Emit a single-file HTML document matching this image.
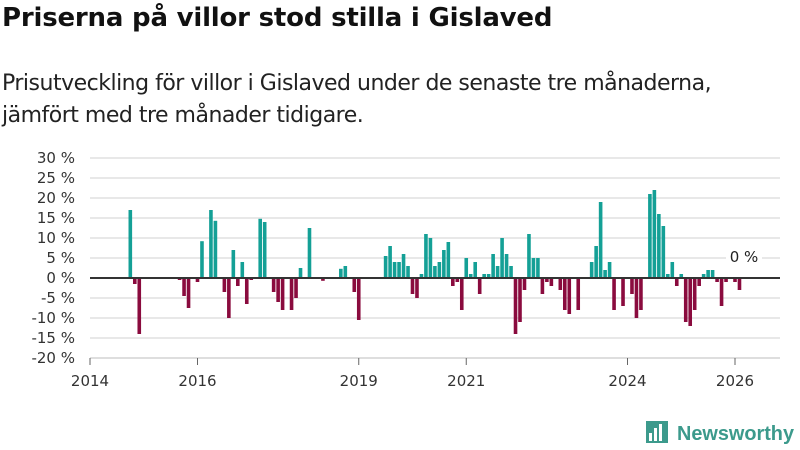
<!DOCTYPE html>
<html><head><meta charset="utf-8">
<style>
body{margin:0;background:#fff;width:800px;height:450px;overflow:hidden;font-family:"Liberation Sans","DejaVu Sans",sans-serif;}
#title{position:absolute;left:2px;top:3px;font-size:26px;font-weight:bold;color:#111;margin:0;white-space:nowrap;font-family:"DejaVu Sans","Liberation Sans",sans-serif;letter-spacing:-0.2px}
#sub{position:absolute;left:2px;top:68px;font-size:22px;line-height:32px;color:#222;white-space:nowrap;font-family:"DejaVu Sans","Liberation Sans",sans-serif;letter-spacing:-0.5px}
svg{position:absolute;left:0;top:0}
</style></head><body>
<h1 id="title">Priserna på villor stod stilla i Gislaved</h1>
<div id="sub">Prisutveckling för villor i Gislaved under de senaste tre månaderna,<br>jämfört med tre månader tidigare.</div>
<svg id="chart" width="800" height="450"></svg>
<script>
const months = [9,10,11,20,21,22,24,25,27,28,30,31,32,33,34,35,36,38,39,41,42,43,45,46,47,49,52,56,57,59,60,66,67,68,69,70,71,72,73,74,75,76,77,78,79,80,81,82,83,84,85,86,87,88,89,90,91,92,93,94,95,96,97,98,99,100,101,102,103,105,106,107,109,112,113,114,115,116,117,119,121,122,123,125,126,127,128,129,130,131,132,133,134,135,136,137,138,139,140,141,142,144,145];
const values = [17,-1.5,-14,-0.5,-4.5,-7.5,-1,9.2,17,14.3,-3.5,-10,7,-2,4,-6.5,-0.5,14.8,14,-3.5,-6,-8,-8,-5,2.5,12.5,-0.7,2.3,3,-3.5,-10.5,5.5,8,4,4,6,3,-4,-5,1,11,10,3,4,7,9,-2,-1,-8,5,1,4,-4,1,1,6,3,10,6,3,-14,-11,-3,11,5,5,-4,-1,-2,-3,-8,-9,-8,4,8,19,2,4,-8,-7,-4,-10,-8,21,22,16,13,1,4,-2,1,-11,-12,-8,-2,1,2,2,-1,-7,-1,-1,-3];
const yTicks = [30,25,20,15,10,5,0,-5,-10,-15,-20];
const xTickYears = [2014,2016,2019,2021,2024,2026];

const NS="http://www.w3.org/2000/svg";
const svg=document.getElementById('chart');
const X0=90, X1=780, monthW=53.75/12;
const y=v=>278-v*4;
const x=m=>X0+m*monthW;
function mk(t,a){const e=document.createElementNS(NS,t);for(const k in a)e.setAttribute(k,a[k]);svg.appendChild(e);return e;}

yTicks.forEach(v=>{
  const g=mk('line',{x1:X0,x2:X1,y1:y(v),y2:y(v),stroke:'#e0e0e0','stroke-width':1.5});
  
  
  const t=mk('text',{x:75,y:y(v)+5,'text-anchor':'end','font-size':15,fill:'#333','font-family':'DejaVu Sans, Liberation Sans, sans-serif'});
  t.textContent=v+' %';
  
  
});
const ax=mk('line',{x1:X0,x2:X1,y1:358,y2:358,stroke:'#ccc','stroke-width':1});


xTickYears.forEach(yr=>{
  const xx=x((yr-2014)*12);
  const tk=mk('line',{x1:xx,x2:xx,y1:358,y2:365,stroke:'#666','stroke-width':1});
  
  
  const t=mk('text',{x:xx,y:386,'text-anchor':'middle','font-size':15,fill:'#333','font-family':'DejaVu Sans, Liberation Sans, sans-serif'});
  t.textContent=yr;
  
  
});
months.forEach((m,i)=>{
  const v=values[i];
  const cx=x(m);
  const r=mk('rect',{x:cx-1.8,width:3.6,y:v>=0?y(v):y(0),height:Math.abs(v)*4,fill:v>=0?'#14a096':'#8a0b3e'});
  
  
});
const z=mk('line',{x1:X0,x2:X1,y1:y(0),y2:y(0),stroke:'#333','stroke-width':2});


const lbl=mk('rect',{x:726,y:246,width:36,height:20,fill:'#fff'});


const lt=mk('text',{x:744,y:262,'text-anchor':'middle','font-size':15,fill:'#222','font-family':'DejaVu Sans, Liberation Sans, sans-serif'});
lt.textContent='0 %';


// logo
const lg=mk('g',{});


const ic=document.createElementNS(NS,'path');
ic.setAttribute('d','M646 421 h22 v22 h-22 z');
ic.setAttribute('fill','#3c9a8c');
lg.appendChild(ic);
[[649,433,3,8],[654,428,3,13],[659,424,3,17]].forEach(b=>{const r=document.createElementNS(NS,'rect');r.setAttribute('x',b[0]);r.setAttribute('y',b[1]);r.setAttribute('width',b[2]);r.setAttribute('height',b[3]);r.setAttribute('fill','#fff');lg.appendChild(r);});
const lt2=document.createElementNS(NS,'text');
lt2.setAttribute('x',677);lt2.setAttribute('y',440);lt2.setAttribute('font-size',20);lt2.setAttribute('font-weight','bold');lt2.setAttribute('fill','#3c9a8c');lt2.setAttribute('font-family','Liberation Sans, DejaVu Sans, sans-serif');
lt2.setAttribute('textLength',117);lt2.setAttribute('lengthAdjust','spacingAndGlyphs');
lt2.textContent='Newsworthy';
lg.appendChild(lt2);
</script>
</body></html>
